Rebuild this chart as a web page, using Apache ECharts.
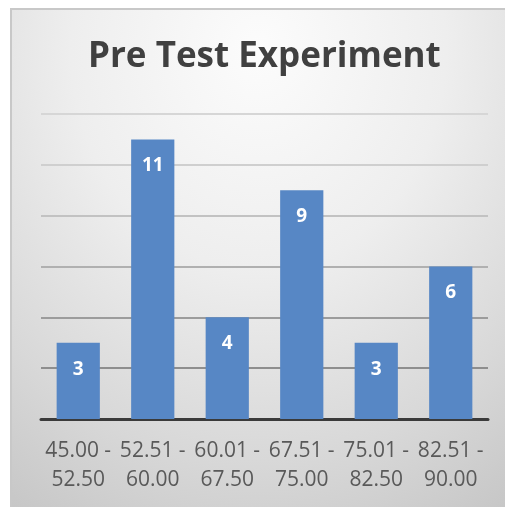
<!DOCTYPE html>
<html>
<head>
<meta charset="utf-8">
<script src="https://cdn.jsdelivr.net/npm/echarts@6/dist/echarts.min.js"></script>
<style>
    html, body {
        margin: 0;
        padding: 0;
        background: #ffffff;
    }

    .frame {
        position: absolute;
        left: 10px;
        top: 8px;
        width: 495px;
        height: 499px;
        border-left: 2px solid #c8c8c8;
        border-top: 2px solid #c8c8c8;
        box-sizing: border-box;
        background: radial-gradient(ellipse 95% 110% at 50% 8%, #fcfcfc 0%, #eeeeee 40%, #d8d8d8 75%, #c6c6c6 100%);
    }

    .chart {
        position: absolute;
        left: 0;
        top: 0;
        width: 505px;
        height: 507px;
    }
</style>
</head>
<body>
<div class="frame"></div>
<div id="chart" class="chart"></div>
<script>
// 分组区间
const categories = ['45.00 - 52.50', '52.51 - 60.00', '60.01 - 67.50', '67.51 - 75.00', '75.01 - 82.50', '82.51 - 90.00']
// 人数
const counts = [3, 11, 4, 9, 3, 6]

const chart = echarts.init(document.getElementById('chart'))
chart.setOption({
    backgroundColor: 'transparent',
    title: {
        text: 'Pre Test Experiment',
        left: 83,
        top: 35,
        textStyle: {
            fontFamily: 'Open Sans',
            fontWeight: 'bold',
            fontSize: 35,
            color: '#404040'
        }
    },
    grid: {
        left: 41,
        right: 17,
        top: 114,
        bottom: 88
    },
    xAxis: {
        type: 'category',
        data: categories,
        axisTick: { show: false },
        axisLine: {
            lineStyle: { color: '#3a3a3a', width: 3 }
        },
        axisLabel: {
            interval: 0,
            margin: 18,
            fontFamily: 'Open Sans',
            fontSize: 21,
            lineHeight: 29,
            color: '#595959',
            formatter: v => v.replace(' - ', ' -\n')
        }
    },
    yAxis: {
        type: 'value',
        min: 0,
        max: 12,
        interval: 2,
        axisLabel: { show: false },
        axisLine: { show: false },
        axisTick: { show: false },
        splitLine: {
            lineStyle: {
                width: 2,
                color: ['#888888', '#8e8e8e', '#9c9c9c', '#b0b0b0', '#c2c2c2', '#cfcfcf', '#d6d6d6']
            }
        }
    },
    series: [
        {
            type: 'bar',
            data: counts,
            barCategoryGap: '42%',
            itemStyle: { color: '#5787c5' },
            label: {
                show: true,
                position: 'insideTop',
                distance: 17,
                fontFamily: 'Open Sans',
                fontWeight: 'bold',
                fontSize: 19,
                color: '#ffffff'
            }
        }
    ]
})
</script>
</body>
</html>
